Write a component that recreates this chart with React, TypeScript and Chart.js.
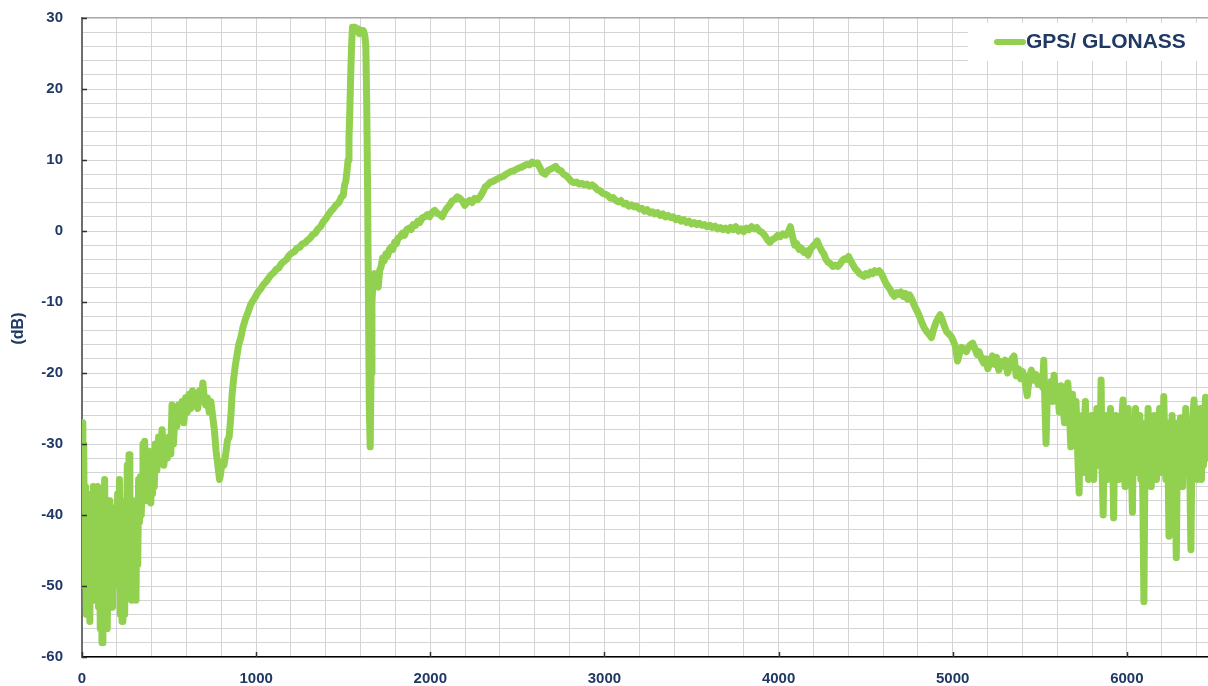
import React, { useEffect, useRef } from "react";
import { Chart, registerables } from "chart.js";

Chart.register(...registerables);

const seriesLabel = "GPS/ GLONASS";
const yTitle = "(dB)";

// Low-frequency noisy segment
const freqsLow: number[] = [
  0, 5, 10, 15, 20, 25, 30, 35, 40, 45, 50, 55, 60, 65, 70, 75, 80, 85, 90, 95,
  100, 105, 110, 115, 120, 125, 130, 135, 140, 145, 150, 155, 160, 165, 170, 175, 180, 185, 190, 195,
  200, 205, 210, 215, 220, 225, 230, 235, 240, 245, 250, 255, 260, 265, 270, 275, 280, 285, 290, 295,
  300, 305, 310, 315, 320, 325, 330, 335, 340, 345, 350, 355, 360, 365, 370, 375, 380, 385, 390, 395,
  400, 405, 410, 415, 420,
];
const gainsLow: number[] = [
  -27, -42, -30, -50, -36, -54, -40, -48, -38, -55, -43, -37, -50, -36, -47, -52, -38, -49, -36, -53,
  -40, -56, -46, -58, -42, -54, -35, -48, -38, -56, -44, -52, -38, -47, -41, -53, -40, -45, -39, -46,
  -42, -37, -50, -35, -54, -42, -55, -40, -47, -54, -38, -45, -33, -42, -31.5, -48, -40, -52, -43, -38,
  -51, -40, -52, -38, -47, -35, -41, -34.6, -40, -36, -30, -37, -29.6, -36, -32, -38, -31, -37, -33, -38.3,
  -34, -37, -31, -36, -30,
];

// Main body of the response
const freqsMid: number[] = [
  430, 440, 450, 460, 470, 480, 490, 500, 510, 517, 525, 534, 545, 555, 565, 575, 585, 595, 605, 615,
  625, 635, 645, 655, 665, 675, 685, 694, 700, 710, 720, 730, 740, 750, 760, 770, 780, 790, 797, 805,
  815, 825, 835, 845, 855, 862, 870, 880, 890, 900, 912, 925, 940, 954, 968, 982, 995, 1010, 1025, 1040,
  1055, 1070, 1085, 1100, 1115, 1130, 1145, 1160, 1175, 1190, 1205, 1220, 1235, 1250, 1265, 1280, 1295, 1310, 1325, 1340,
  1355, 1370, 1385, 1400, 1415, 1430, 1445, 1460, 1475, 1490, 1500, 1508, 1515, 1522, 1528, 1533, 1538, 1543, 1548, 1553,
  1560, 1568, 1576, 1584, 1592, 1600, 1608, 1616, 1624, 1630, 1635, 1640, 1645, 1650, 1655, 1660, 1665, 1672, 1680, 1690,
  1701, 1710, 1718, 1726, 1735, 1745, 1755, 1765, 1775, 1785, 1795, 1805, 1815, 1828, 1840, 1852, 1865, 1878, 1890, 1902,
  1915, 1928, 1940, 1955, 1970, 1983, 1996, 2010, 2025, 2040, 2055, 2068, 2080, 2095, 2110, 2125, 2140, 2155, 2170, 2185,
  2198, 2210, 2225, 2240, 2255, 2270, 2285, 2300, 2315, 2330, 2345, 2360, 2375, 2390, 2405, 2420, 2435, 2450, 2465, 2480,
  2495, 2510, 2525, 2540, 2555, 2570, 2585, 2600, 2615, 2630, 2645, 2660, 2675, 2690, 2705, 2720, 2735, 2750, 2765, 2780,
  2795, 2810, 2825, 2840, 2855, 2870, 2885, 2900, 2915, 2930, 2945, 2960, 2975, 2990, 3005, 3020, 3035, 3050, 3065, 3080,
  3095, 3110, 3125, 3140, 3155, 3170, 3185, 3200, 3215, 3230, 3245, 3260, 3275, 3290, 3305, 3320, 3335, 3350, 3365, 3380,
  3395, 3410, 3425, 3440, 3455, 3470, 3485, 3500, 3515, 3530, 3545, 3560, 3575, 3590, 3605, 3620, 3635, 3650, 3665, 3680,
  3695, 3710, 3725, 3740, 3755, 3770, 3785, 3800, 3815, 3830, 3845, 3860, 3875, 3890, 3905, 3920, 3935, 3950, 3965, 3980,
  3995, 4010, 4025, 4040, 4055, 4068, 4080, 4092, 4105, 4118, 4130, 4145, 4160, 4170, 4182, 4195, 4210, 4222, 4235, 4248,
  4260, 4272, 4285, 4298, 4312, 4325, 4340, 4352, 4365, 4378, 4390, 4402, 4415, 4428, 4440, 4452, 4465, 4478, 4490, 4502,
  4515, 4528, 4540, 4552, 4565, 4578, 4590, 4602, 4615, 4628, 4640, 4652, 4665, 4678, 4690, 4702, 4715, 4728, 4740, 4752,
  4765, 4778, 4790, 4802, 4815, 4828, 4840, 4852, 4865, 4878, 4890, 4902, 4915, 4928, 4940, 4952, 4965, 4978, 4990, 5002,
  5015, 5028, 5040, 5052, 5065, 5078, 5090, 5102, 5115, 5128, 5140, 5152, 5165, 5178, 5190, 5202, 5215, 5228, 5240, 5252,
  5265, 5278, 5290, 5302, 5315, 5328, 5340, 5352, 5365, 5378, 5390, 5402, 5415, 5428, 5440, 5452, 5465, 5478, 5490, 5502,
  5515, 5523, 5530, 5536, 5545, 5555, 5565, 5575, 5582, 5592, 5602, 5612, 5622, 5632, 5642, 5652, 5661, 5670, 5678, 5688,
  5698, 5708, 5715,
];
const gainsMid: number[] = [
  -33.7, -29, -32, -28, -33, -30, -32, -29, -31.4, -24.5, -30, -26, -27.5, -24.5, -26.5, -24, -27, -23.5, -25.5, -23,
  -25, -22.5, -24.5, -23, -25, -22.5, -24, -21.4, -23, -24.5, -23.5, -25.5, -24, -26, -28, -31, -33, -35, -34, -32.5,
  -33, -31.5, -29.5, -29, -26, -23, -21, -19, -17.5, -16, -15, -13.5, -12.3, -11.4, -10.4, -9.8, -9.3, -8.6, -8.2, -7.6,
  -7.2, -6.7, -6.2, -5.9, -5.4, -5.2, -4.6, -4.3, -4, -3.4, -3.1, -2.9, -2.4, -2.3, -1.8, -1.7, -1.3, -1.0, -0.5, -0.3,
  0.3, 0.6, 1.3, 1.7, 2.3, 2.8, 3.2, 3.7, 4.0, 4.8, 5.0, 6.5, 7.0, 8.5, 10, 13, 17, 22, 26, 28.7,
  28.2, 28.7, 28.2, 28.5, 27.8, 28.3, 28, 28.2, 27.5, 26, 18, 6, -10, -25, -30.4, -20, -10, -6.9, -6, -7.5,
  -7.9, -5.5, -5, -3.8, -4.2, -3.2, -3.5, -2.6, -2.3, -2.6, -1.6, -1.8, -1.0, -0.8, -0.3, -0.6, 0.2, 0.4, 0.2, 0.9,
  0.8, 1.4, 1.2, 1.9, 2.0, 2.3, 2.0, 2.6, 2.9, 2.5, 2.3, 2.0, 2.6, 3.2, 3.6, 4.2, 4.4, 4.8, 4.6, 4.2,
  3.6, 4.0, 4.3, 4.0, 4.6, 4.4, 4.8, 5.4, 6.2, 6.5, 6.9, 7.0, 7.2, 7.4, 7.6, 7.7, 8.0, 8.2, 8.4, 8.5,
  8.7, 8.9, 9.0, 9.2, 9.4, 9.3, 9.7, 9.5, 9.6, 8.9, 8.2, 8.0, 8.5, 8.7, 8.9, 9.1, 8.6, 8.5, 8.0, 7.8,
  7.4, 7.0, 6.8, 6.9, 6.6, 6.7, 6.5, 6.6, 6.3, 6.5, 6.2, 5.8, 5.7, 5.3, 5.2, 5.0, 4.6, 4.7, 4.3, 4.1,
  4.3, 3.8, 3.9, 3.5, 3.7, 3.4, 3.5, 3.1, 3.2, 2.8, 3.0, 2.6, 2.7, 2.4, 2.6, 2.2, 2.4, 2.0, 2.2, 1.9,
  2.0, 1.6, 1.8, 1.4, 1.6, 1.2, 1.4, 1.0, 1.2, 0.9, 1.1, 0.8, 0.9, 0.6, 0.8, 0.5, 0.7, 0.3, 0.5, 0.2,
  0.4, 0.1, 0.5, 0.2, 0.6, 0.0, 0.3, -0.1, 0.4, 0.2, 0.6, 0.3, 0.5, 0.0, -0.2, -0.6, -1.2, -1.6, -1.2, -1.0,
  -0.6, -0.8, -0.4, -0.6, -0.2, 0.6, -0.8, -2.0, -1.8, -2.6, -2.4, -3.0, -2.8, -3.4, -2.6, -2.2, -1.8, -1.4, -2.2, -2.8,
  -3.2, -4.0, -4.4, -4.6, -5.0, -4.8, -5.0, -4.7, -4.2, -3.9, -4.0, -3.6, -4.2, -4.8, -5.3, -5.6, -6.0, -6.2, -6.4, -6.0,
  -6.2, -5.8, -6.0, -5.6, -5.8, -5.6, -6.0, -6.6, -7.3, -7.8, -8.2, -8.8, -9.2, -8.7, -8.9, -8.6, -9.2, -8.8, -9.6, -9.0,
  -9.6, -10.4, -11.0, -11.6, -12.4, -13.2, -13.8, -14.2, -14.6, -15.0, -13.9, -13.0, -12.3, -11.8, -12.5, -13.4, -14.2, -14.5, -14.8, -15.4,
  -16.2, -18.3, -17.2, -16.4, -16.7, -17.0, -16.4, -16.0, -15.8, -16.6, -17.4, -17.0, -18.0, -18.6, -18.0, -19.4, -18.3, -17.6, -18.8, -17.8,
  -19.6, -18.4, -19.0, -18.2, -20.0, -19.0, -18.0, -17.6, -20.4, -19.4, -20.8, -19.8, -21.2, -23.2, -20.6, -19.6, -21.0, -20.2, -21.6, -20.8,
  -22.0, -18.2, -25.0, -29.9, -21.5, -23.0, -21.2, -24.0, -20.3, -23.5, -22.0, -25.5, -21.8, -24.2, -27.0, -22.5, -21.4, -25.0, -30.4, -23.0,
  -26.5, -24.0, -29.0,
];

// High-frequency noisy segment
const freqsHigh: number[] = [
  5720, 5726, 5732, 5738, 5744, 5750, 5756, 5762, 5768, 5774, 5780, 5786, 5792, 5798, 5804, 5810, 5816, 5822, 5828, 5834,
  5840, 5846, 5852, 5858, 5864, 5870, 5876, 5882, 5888, 5894, 5900, 5906, 5912, 5918, 5924, 5930, 5936, 5942, 5948, 5954,
  5960, 5966, 5972, 5978, 5984, 5990, 5996, 6002, 6008, 6014, 6020, 6026, 6032, 6038, 6044, 6050, 6056, 6062, 6068, 6074,
  6080, 6086, 6092, 6098, 6104, 6110, 6116, 6122, 6128, 6134, 6140, 6146, 6152, 6158, 6164, 6170, 6176, 6182, 6188, 6194,
  6200, 6206, 6212, 6218, 6224, 6230, 6236, 6242, 6248, 6254, 6260, 6266, 6272, 6278, 6284, 6290, 6296, 6302, 6308, 6314,
  6320, 6326, 6332, 6338, 6344, 6350, 6356, 6362, 6368, 6374, 6380, 6386, 6392, 6398, 6404, 6410, 6416, 6422, 6428, 6434,
  6440, 6446, 6452, 6458, 6464, 6470,
];
const gainsHigh: number[] = [
  -33, -36.9, -27, -33, -26, -34, -28, -24, -33, -27, -35, -29, -32, -26, -34, -35, -28, -32, -25, -33,
  -27, -31, -21, -34, -40, -28, -33, -26, -35, -28, -32, -25, -34, -29, -40.4, -30, -26, -33, -28, -35,
  -27, -32, -26, -23.8, -33, -36, -28, -32, -25, -34, -29, -33, -39.6, -28, -31, -25, -34, -27, -32, -26,
  -35, -29, -38, -52.2, -33, -27, -31, -25, -34, -28, -36, -29, -33, -26, -31, -35, -27, -32, -25, -34,
  -29, -33, -23.3, -30, -35, -27, -32, -43, -29, -33, -26, -34, -28, -37, -46, -31, -27, -33, -26.3, -30,
  -36, -28, -33, -25, -34, -29, -31, -35, -44.9, -30, -26, -23.8, -32, -28, -35, -27, -31, -25, -35, -29,
  -33, -26, -23.4, -31, -27, -32,
];

const xTickLabels: number[] = [0, 1000, 2000, 3000, 4000, 5000, 6000];
const yTickLabels: number[] = [30, 20, 10, 0, -10, -20, -30, -40, -50, -60];

const X_MIN = 0;
const X_MAX = 6466;
const Y_MIN = -60;
const Y_MAX = 30;

const NAVY = "#1F3864";
const GREEN = "#92D050";
const FONT = "'Liberation Sans', Arial, sans-serif";

const decorPlugin = {
  id: "decor",
  afterDraw(chart: any) {
    const { ctx, chartArea, scales } = chart;
    const xs = scales.x;
    const ys = scales.y;
    ctx.save();
    ctx.strokeStyle = "#333333";
    ctx.lineWidth = 1.5;
    ctx.beginPath();
    for (const v of yTickLabels) {
      const py = Math.round(ys.getPixelForValue(v)) + 0.5;
      ctx.moveTo(chartArea.left, py);
      ctx.lineTo(chartArea.left + 5, py);
    }
    for (const v of xTickLabels) {
      const px = Math.round(xs.getPixelForValue(v)) + 0.5;
      ctx.moveTo(px, chartArea.bottom);
      ctx.lineTo(px, chartArea.bottom - 5);
    }
    ctx.stroke();

    const bx = 968;
    const by = 23;
    ctx.fillStyle = "#ffffff";
    ctx.fillRect(bx, by, chart.width - bx, 38);
    ctx.strokeStyle = GREEN;
    ctx.lineWidth = 6;
    ctx.lineCap = "round";
    ctx.beginPath();
    ctx.moveTo(997, 42);
    ctx.lineTo(1023, 42);
    ctx.stroke();
    ctx.fillStyle = NAVY;
    ctx.font = "bold 21px " + FONT;
    ctx.textBaseline = "middle";
    ctx.textAlign = "left";
    ctx.fillText(chart.data.datasets[0].label, 1026, 42);

    ctx.translate(19, (chartArea.top + chartArea.bottom) / 2 - 9);
    ctx.rotate(-Math.PI / 2);
    ctx.font = "bold 16px " + FONT;
    ctx.textAlign = "center";
    ctx.textBaseline = "middle";
    ctx.fillText(yTitle, 0, 0);
    ctx.restore();
  },
};

export default function App() {
  const ref = useRef<HTMLCanvasElement | null>(null);

  useEffect(() => {
    if (!ref.current) return;
    const freqs = [...freqsLow, ...freqsMid, ...freqsHigh];
    const gains = [...gainsLow, ...gainsMid, ...gainsHigh];
    const points = freqs.map((x, i) => ({ x, y: gains[i] }));
    const chart = new Chart(ref.current, {
      type: "line",
      data: {
        datasets: [
          {
            label: seriesLabel,
            data: points,
            borderColor: GREEN,
            backgroundColor: GREEN,
            borderWidth: 7,
            pointRadius: 0,
            tension: 0,
            borderCapStyle: "round",
            borderJoinStyle: "round",
            fill: false,
          },
        ],
      },
      options: {
        responsive: false,
        animation: false,
        layout: { padding: { top: 18, right: 0, left: 0, bottom: 0 } },
        plugins: {
          legend: { display: false },
          tooltip: { enabled: false },
        },
        scales: {
          x: {
            type: "linear",
            min: X_MIN,
            max: X_MAX,
            afterFit: (s: any) => {
              s.height = 29;
              s.paddingLeft = 0;
              s.paddingRight = 0;
            },
            ticks: {
              stepSize: 200,
              autoSkip: false,
              includeBounds: false,
              maxRotation: 0,
              padding: 13,
              color: NAVY,
              font: { family: FONT, size: 15, weight: "bold" },
              callback: (v: any) => (xTickLabels.includes(Number(v)) ? String(v) : ""),
            },
            grid: {
              color: "#D4D4D4",
              lineWidth: 1,
              drawTicks: false,
            },
            border: { color: "#000000", width: 1.5 },
          },
          y: {
            type: "linear",
            min: Y_MIN,
            max: Y_MAX,
            afterFit: (s: any) => {
              s.width = 82;
              s.paddingTop = 0;
              s.paddingBottom = 0;
            },
            ticks: {
              stepSize: 2,
              autoSkip: false,
              padding: 19,
              color: NAVY,
              font: { family: FONT, size: 15, weight: "bold" },
              callback: (v: any) => (yTickLabels.includes(Number(v)) ? String(v) : ""),
            },
            grid: {
              color: (c: any) => (c.tick && c.tick.value === Y_MAX ? "#A6A6A6" : "#D4D4D4"),
              lineWidth: (c: any) => (c.tick && c.tick.value === Y_MAX ? 1.5 : 1),
              drawTicks: false,
            },
            border: { color: "#6E6E6E", width: 2 },
          },
        },
      },
      plugins: [decorPlugin],
    } as any);
    return () => chart.destroy();
  }, []);

  return (
    <div style={{ position: "fixed", left: 0, top: 0, width: 1208, height: 686, background: "#ffffff" }}>
      <canvas ref={ref} width={1208} height={686} style={{ display: "block", width: 1208, height: 686 }} />
    </div>
  );
}
